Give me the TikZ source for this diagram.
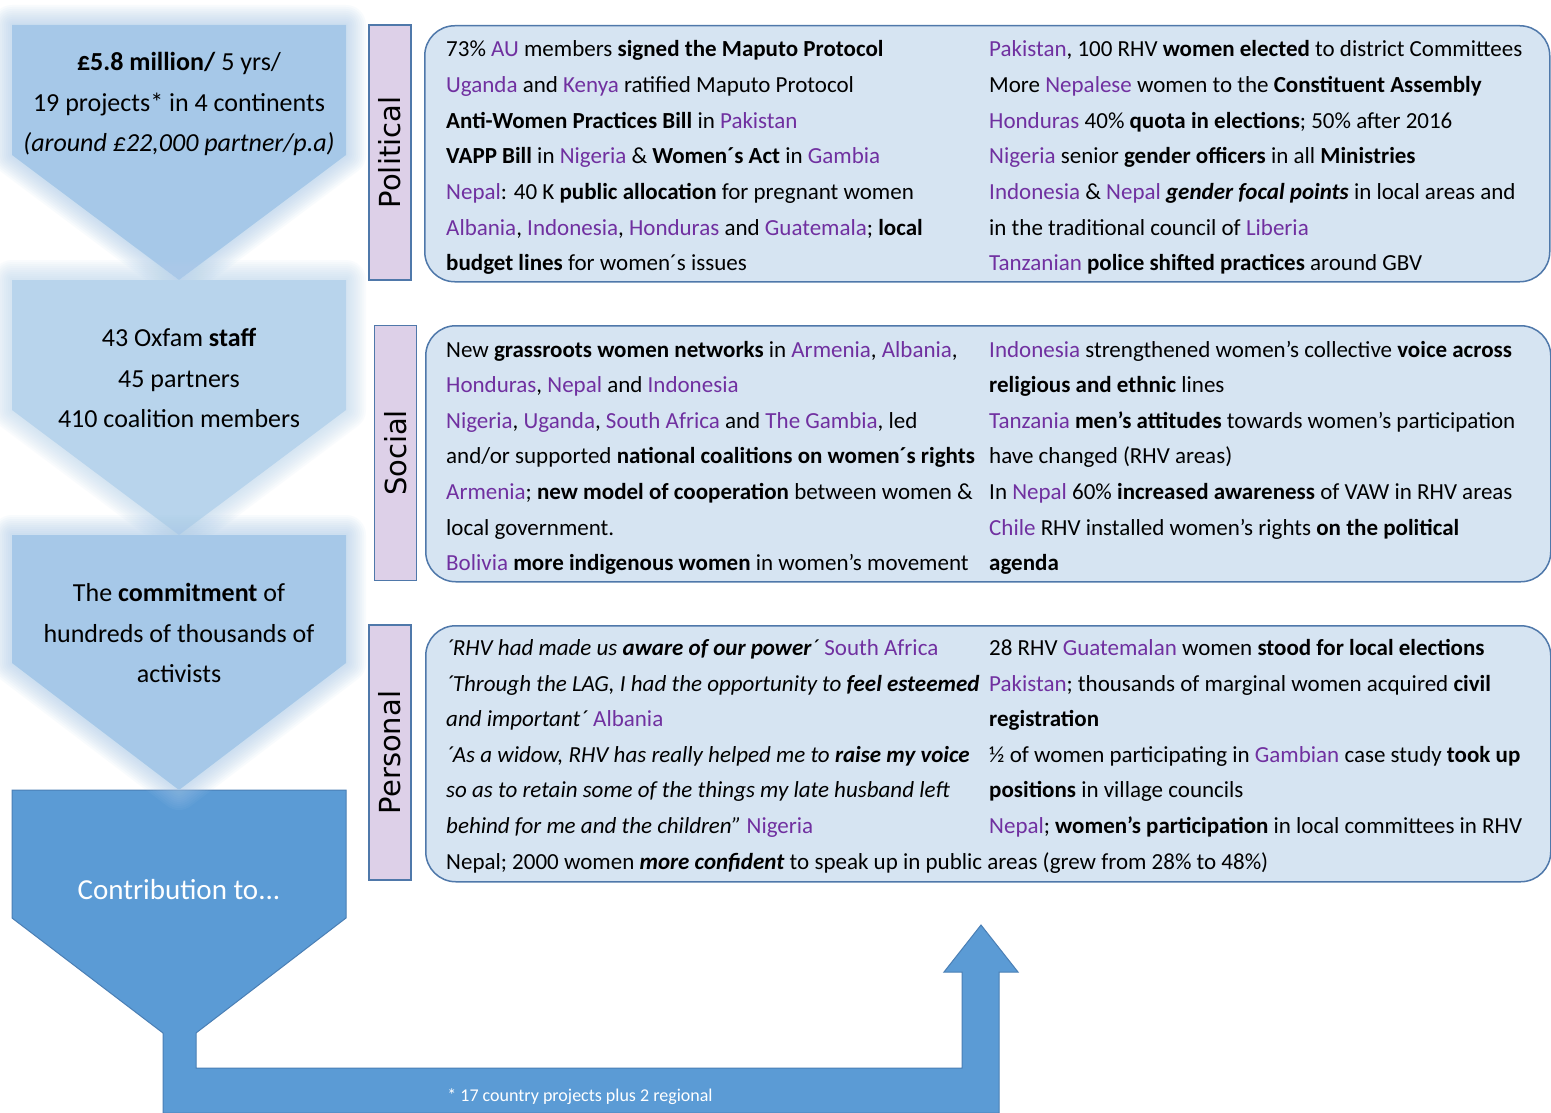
\documentclass[tikz,border=0pt]{standalone}
\usepackage{fontspec}
\setmainfont{Carlito}
\newfontfamily\lblfont{DejaVu Sans}
\definecolor{purp}{HTML}{7030A0}
\definecolor{chevA}{HTML}{A6C8E8}
\definecolor{chevB}{HTML}{B8D4EC}
\definecolor{darkblue}{HTML}{5B9BD5}
\definecolor{darkedge}{HTML}{4A7FB5}
\definecolor{boxfill}{HTML}{D6E4F2}
\definecolor{boxedge}{HTML}{4F78AA}
\definecolor{lav}{HTML}{DDD0E8}
\newcommand\pu[1]{\textcolor{purp}{#1}}
\newcommand\bi[1]{\textbf{\textit{#1}}}
\newcommand\glowshape[2]{%
  \foreach \w in {40,36,...,4}{\draw[#1,opacity=0.07,line width=\w pt,line join=round] #2;}
  \fill[#1] #2;}
\begin{document}
\begin{tikzpicture}[x=1pt,y=-1pt,
  body/.style={anchor=base west,inner sep=0pt,font=\fontsize{23}{28}\selectfont},
  lefttxt/.style={anchor=base,inner sep=0pt,font=\fontsize{26}{30}\selectfont},
  lbl/.style={rotate=90,inner sep=0pt,font=\lblfont\fontsize{29}{32}\selectfont},
  lblbox/.style={draw=boxedge,fill=lav,line width=1.5pt,inner sep=0pt,minimum width=42pt,minimum height=255pt},
  cbox/.style={draw=boxedge,fill=boxfill,line width=1.5pt,rounded corners=30pt,inner sep=0pt,anchor=north west,minimum width=1125pt,minimum height=256pt}
]
\useasboundingbox (0,0) rectangle (1551,1113);
\fill[white] (0,0) rectangle (1551,1113);

% dark funnel + arrow
\draw[fill=darkblue,draw=darkedge,line width=1pt,line join=miter]
  (12,790) -- (346,790) -- (346,918) -- (196,1033) -- (196,1068) -- (962,1068)
  -- (962,972) -- (944,972) -- (981,925) -- (1018,972) -- (999,972) -- (999,1113)
  -- (163,1113) -- (163,1033) -- (12,918) -- cycle;

% light chevrons with glow
\glowshape{chevA}{(12,25) -- (346,25) -- (346,155) -- (179,280) -- (12,155) -- cycle}
\glowshape{chevB}{(12,280) -- (346,280) -- (346,410) -- (179,535) -- (12,410) -- cycle}
\glowshape{chevA}{(12,535) -- (346,535) -- (346,663) -- (179,790) -- (12,663) -- cycle}

% left texts
\node[lefttxt] (c1a) at (179,71) {\textbf{£5.8 million/} 5 yrs/};
\node[lefttxt] (c1b) at (179,111.5) {19 projects* in 4 continents};
\node[lefttxt] (c1c) at (179,152) {\textit{(around £22,000 partner/p.a)}};
\node[lefttxt] (c2a) at (179,346.5) {43 Oxfam \textbf{staff}};
\node[lefttxt] (c2b) at (179,387) {45 partners};
\node[lefttxt] (c2c) at (179,427.5) {410 coalition members};
\node[lefttxt] (c3a) at (179,601.5) {The \textbf{commitment} of};
\node[lefttxt] (c3b) at (179,642) {hundreds of thousands of};
\node[lefttxt] (c3c) at (179,682.5) {activists};
\node[anchor=base,inner sep=0pt,text=white,font=\fontsize{29}{32}\selectfont] (contrib) at (179,899) {Contribution to...};
\node[anchor=base,inner sep=0pt,text=white,font=\fontsize{18}{20}\selectfont] (foot) at (580,1101) {* 17 country projects plus 2 regional};

% label boxes
\node[lblbox] (polbox) at (390,152.5) {};
\node[lbl] (pollbl) at (polbox.center) {Political};
\node[lblbox] (socbox) at (395.5,453) {};
\node[lbl] (soclbl) at (socbox.center) {Social};
\node[lblbox] (perbox) at (390,752.5) {};
\node[lbl] (perlbl) at (perbox.center) {Personal};

% content boxes
\node[cbox] (polc) at (424,25) {};
\node[cbox] (socc) at (425,325) {};
\node[cbox] (perc) at (425,625) {};

% Political
\node[body] (p1) at (446,57) {73\% \pu{AU} members \textbf{signed the Maputo Protocol}};
\node[body] (p2) at (446,92.6) {\pu{Uganda} and \pu{Kenya} ratified Maputo Protocol};
\node[body] (p3) at (446,128.2) {\textbf{Anti-Women Practices Bill} in \pu{Pakistan}};
\node[body] (p4) at (446,163.8) {\textbf{VAPP Bill} in \pu{Nigeria} \& \textbf{Women´s Act} in \pu{Gambia}};
\node[body] (p5) at (446,199.4) {\pu{Nepal}: 40 K \textbf{public allocation} for pregnant women};
\node[body] (p6) at (446,235) {\pu{Albania}, \pu{Indonesia}, \pu{Honduras} and \pu{Guatemala}; \textbf{local}};
\node[body] (p7) at (446,270.6) {\textbf{budget lines} for women´s issues};
\node[body] (q1) at (989,57) {\pu{Pakistan}, 100 RHV \textbf{women elected} to district Committees};
\node[body] (q2) at (989,92.6) {More \pu{Nepalese} women to the \textbf{Constituent Assembly}};
\node[body] (q3) at (989,128.2) {\pu{Honduras} 40\% \textbf{quota in elections}; 50\% after 2016};
\node[body] (q4) at (989,163.8) {\pu{Nigeria} senior \textbf{gender officers} in all \textbf{Ministries}};
\node[body] (q5) at (989,199.4) {\pu{Indonesia} \& \pu{Nepal} \bi{gender focal points} in local areas and};
\node[body] (q6) at (989,235) {in the traditional council of \pu{Liberia}};
\node[body] (q7) at (989,270.6) {\pu{Tanzanian} \textbf{police shifted practices} around GBV};

% Social
\node[body] (s1) at (446,357) {New \textbf{grassroots women networks} in \pu{Armenia}, \pu{Albania},};
\node[body] (s2) at (446,392.6) {\pu{Honduras}, \pu{Nepal} and \pu{Indonesia}};
\node[body] (s3) at (446,428.2) {\pu{Nigeria}, \pu{Uganda}, \pu{South Africa} and \pu{The Gambia}, led};
\node[body] (s4) at (446,463.8) {and/or supported \textbf{national coalitions on women´s rights}};
\node[body] (s5) at (446,499.4) {\pu{Armenia}; \textbf{new model of cooperation} between women \&};
\node[body] (s6) at (446,535) {local government.};
\node[body] (s7) at (446,570.6) {\pu{Bolivia} \textbf{more indigenous women} in women’s movement};
\node[body] (t1) at (989,357) {\pu{Indonesia} strengthened women’s collective \textbf{voice across}};
\node[body] (t2) at (989,392.6) {\textbf{religious and ethnic} lines};
\node[body] (t3) at (989,428.2) {\pu{Tanzania} \textbf{men’s attitudes} towards women’s participation};
\node[body] (t4) at (989,463.8) {have changed (RHV areas)};
\node[body] (t5) at (989,499.4) {In \pu{Nepal} 60\% \textbf{increased awareness} of VAW in RHV areas};
\node[body] (t6) at (989,535) {\pu{Chile} RHV installed women’s rights \textbf{on the political}};
\node[body] (t7) at (989,570.6) {\textbf{agenda}};

% Personal
\node[body] (r1) at (446,655.5) {\textit{´RHV had made us \textbf{aware of our power}´} \pu{South Africa}};
\node[body] (r2) at (446,691.1) {\textit{´Through the LAG, I had the opportunity to \textbf{feel esteemed}}};
\node[body] (r3) at (446,726.7) {\textit{and important´} \pu{Albania}};
\node[body] (r4) at (446,762.3) {\textit{´As a widow, RHV has really helped me to \textbf{raise my voice}}};
\node[body] (r5) at (446,797.9) {\textit{so as to retain some of the things my late husband left}};
\node[body] (r6) at (446,833.5) {\textit{behind for me and the children”} \pu{Nigeria}};
\node[body] (r7) at (446,869.1) {Nepal; 2000 women \bi{more confident} to speak up in public areas (grew from 28\% to 48\%)};
\node[body] (u1) at (989,655.5) {28 RHV \pu{Guatemalan} women \textbf{stood for local elections}};
\node[body] (u2) at (989,691.1) {\pu{Pakistan}; thousands of marginal women acquired \textbf{civil}};
\node[body] (u3) at (989,726.7) {\textbf{registration}};
\node[body] (u4) at (989,762.3) {½ of women participating in \pu{Gambian} case study \textbf{took up}};
\node[body] (u5) at (989,797.9) {\textbf{positions} in village councils};
\node[body] (u6) at (989,833.5) {\pu{Nepal}; \textbf{women’s participation} in local committees in RHV};
\end{tikzpicture}
\end{document}
